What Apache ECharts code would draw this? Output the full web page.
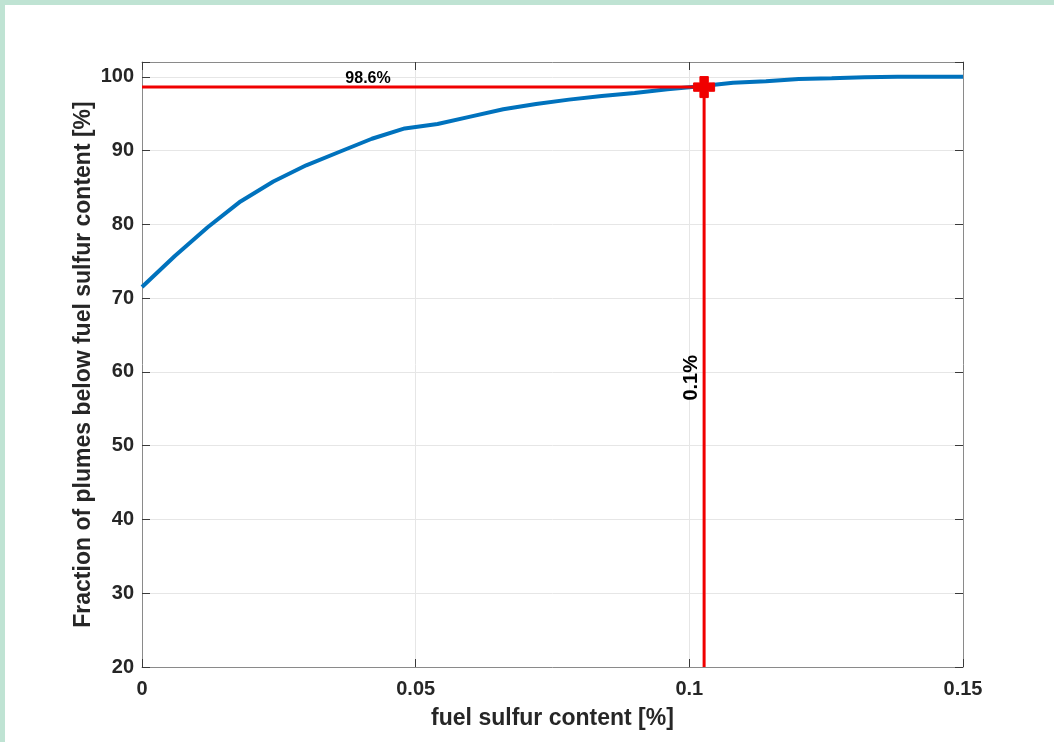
<!DOCTYPE html>
<html>
<head>
<meta charset="utf-8">
<script src="https://cdn.jsdelivr.net/npm/echarts@6/dist/echarts.min.js"></script>
<style>
html,body{margin:0;padding:0;background:#bfe3d3;}
#chart{position:absolute;left:5px;top:5px;width:1049px;height:737px;background:#ffffff;}
</style>
</head>
<body>
<div id="chart"></div>
<script>
// ---- data ----
const sulfur = [0, 0.006, 0.012, 0.018, 0.024, 0.030, 0.036, 0.042, 0.048, 0.054, 0.060, 0.066, 0.072,
  0.078, 0.084, 0.090, 0.096, 0.102, 0.108, 0.114, 0.120, 0.126, 0.132, 0.138, 0.144, 0.150];
const fraction = [71.5, 75.7, 79.6, 83.1, 85.8, 88.0, 89.8, 91.6, 93.0, 93.6, 94.6, 95.6, 96.3,
  96.9, 97.4, 97.8, 98.3, 98.7, 99.2, 99.4, 99.7, 99.8, 99.93, 100, 100, 100];
const refX = 0.1027;
const refY = 98.6;
const yMin = 20, yMax = 102;
const xTicks = [0, 0.05, 0.1, 0.15];
const yTicks = [20, 30, 40, 50, 60, 70, 80, 90, 100];
const refYLabel = '98.6%';
const refXLabel = '0.1%';
const xTitle = 'fuel sulfur content [%]';
const yTitle = 'Fraction of plumes below fuel sulfur content [%]';

const FONT = '"Liberation Sans", Arial, Helvetica, sans-serif';
const chart = echarts.init(document.getElementById('chart'));
const lineData = sulfur.map((x, i) => [x, fraction[i]]);
const plusPath = 'path://M3,0 H7 V3 H10 V7 H7 V10 H3 V7 H0 V3 H3 Z';

const axisCommon = {
  type: 'value',
  axisLine: {show: true, onZero: false, lineStyle: {color: '#8a8a8a', width: 1}},
  axisTick: {show: true, inside: true, length: 8, lineStyle: {color: '#3a3a3a', width: 1}},
};

chart.setOption({
  animation: false,
  backgroundColor: '#ffffff',
  grid: {left: 137, right: 91, top: 57, bottom: 75, containLabel: false},
  xAxis: [
    Object.assign({}, axisCommon, {
      position: 'bottom', min: 0, max: 0.15, interval: 0.05,
      name: xTitle, nameLocation: 'middle', nameGap: 40,
      nameTextStyle: {fontFamily: FONT, fontWeight: 'bold', fontSize: 23, color: '#262626'},
      axisLabel: {fontFamily: FONT, fontWeight: 'bold', fontSize: 20, color: '#262626', margin: 12,
        formatter: v => { const t = xTicks.find(k => Math.abs(k - v) < 1e-9); return t === undefined ? '' : String(t); }},
      splitLine: {show: true, lineStyle: {color: '#e6e6e6', width: 1}}
    }),
    Object.assign({}, axisCommon, {
      position: 'top', min: 0, max: 0.15, interval: 0.05,
      axisLabel: {show: false}, splitLine: {show: false}
    })
  ],
  yAxis: [
    Object.assign({}, axisCommon, {
      position: 'left', min: yMin, max: yMax, interval: 10,
      name: yTitle, nameLocation: 'middle', nameGap: 47, nameMoveOverlap: false,
      nameTextStyle: {fontFamily: FONT, fontWeight: 'bold', fontSize: 23, color: '#262626'},
      axisLabel: {fontFamily: FONT, fontWeight: 'bold', fontSize: 20, color: '#262626', margin: 8,
        formatter: v => yTicks.indexOf(v) >= 0 ? String(v) : ''},
      splitLine: {show: true, lineStyle: {color: '#e6e6e6', width: 1}}
    }),
    Object.assign({}, axisCommon, {
      position: 'right', min: yMin, max: yMax, interval: 10,
      axisLabel: {show: false}, splitLine: {show: false}
    })
  ],
  series: [
    {
      type: 'line', data: lineData, showSymbol: false, symbol: 'none',
      lineStyle: {color: '#0072BD', width: 4}, z: 3
    },
    {
      type: 'line', data: [[0, refY], [refX, refY]], symbol: 'none',
      lineStyle: {color: '#f00000', width: 3}, z: 4
    },
    {
      type: 'line', data: [[refX, refY], [refX, yMin]], symbol: 'none',
      lineStyle: {color: '#f00000', width: 3}, z: 4
    },
    {
      type: 'scatter', data: [[refX, refY]], symbol: plusPath, symbolSize: [21, 21], symbolKeepAspect: true,
      itemStyle: {color: '#f00000', opacity: 1, borderColor: '#f00000', borderWidth: 1, borderJoin: 'round'}, z: 5
    },
    {
      type: 'scatter', symbolSize: 0, z: 6, silent: true,
      itemStyle: {opacity: 1},
      data: [
        {value: [0.0413, 99.75], label: {show: true, position: 'inside', formatter: refYLabel, opacity: 1,
          fontFamily: FONT, fontWeight: 'bold', fontSize: 16, color: '#000'}},
        {value: [0.1004, 59.2], label: {show: true, position: 'inside', rotate: 90, formatter: refXLabel, opacity: 1,
          fontFamily: FONT, fontWeight: 'bold', fontSize: 20, color: '#000'}}
      ]
    }
  ]
});
</script>
</body>
</html>
